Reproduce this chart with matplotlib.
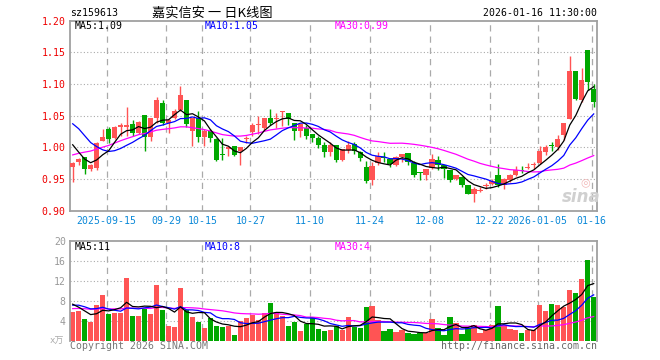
import matplotlib.pyplot as plt
import numpy as np
import pandas as pd

plt.rcParams['font.family'] = ['DejaVu Sans Mono', 'Noto Sans CJK SC']

# daily K-line data, 2025-09-05 .. 2026-01-16
opens = [0.9687, 0.9766, 0.985, 0.9651, 0.9682, 1.0099, 1.0292, 1.0146, 1.0323, 1.0323,
         1.0365, 1.0224, 1.0505, 1.0167, 1.0458, 1.0698, 1.038, 1.0458, 1.0589, 1.074,
         1.026, 1.0458, 1.0167, 1.026, 1.013, 0.9885, 0.9969, 1.0021, 0.9948, 1.0135,
         1.025, 1.0354, 1.0313, 1.0458, 1.0448, 1.0557, 1.0536, 1.038, 1.026, 1.0313,
         1.0208, 1.0146, 1.0036, 0.9932, 1.0036, 0.9807, 0.9964, 1.0052, 0.9932, 0.9693,
         0.9479, 0.9755, 0.9849, 0.9818, 0.9714, 0.9854, 0.9911, 0.9755, 0.9599, 0.9557,
         0.9677, 0.9807, 0.9714, 0.9646, 0.9495, 0.9531, 0.9401, 0.9271, 0.9318, 0.9396,
         0.9422, 0.9557, 0.9401, 0.9479, 0.9568, 0.9635, 0.9672, 0.9714, 0.9755, 0.9932,
         1.0031, 1.0, 1.0193, 1.0453, 1.1208, 1.074, 1.1536, 1.0922]
highs = [0.977, 0.983, 0.985, 0.9734, 1.0089, 1.0286, 1.0328, 1.033, 1.038, 1.064,
         1.0432, 1.041, 1.0505, 1.0458, 1.0792, 1.0755, 1.0443, 1.0599, 1.0964, 1.0755,
         1.0458, 1.0573, 1.0286, 1.0286, 1.014, 1.0146, 1.0016, 1.0021, 1.0, 1.018,
         1.038, 1.0495, 1.0458, 1.0599, 1.0536, 1.0568, 1.0536, 1.039, 1.0365, 1.0349,
         1.0208, 1.018, 1.0078, 1.0078, 1.0036, 0.9974, 1.0094, 1.0078, 0.9948, 0.9786,
         0.9766, 0.9922, 0.9922, 0.9833, 0.987, 0.9896, 0.9911, 0.9792, 0.9609, 0.9661,
         0.9896, 0.9859, 0.9724, 0.9646, 0.9568, 0.9542, 0.9401, 0.9375, 0.9375, 0.9443,
         0.9505, 0.974, 0.9516, 0.9583, 0.9703, 0.9703, 0.9755, 0.9776, 1.0026, 1.0036,
         1.0078, 1.0193, 1.0391, 1.1443, 1.1208, 1.126, 1.1536, 1.10]
lows = [0.946, 0.9714, 0.9583, 0.963, 0.9635, 1.0099, 1.0068, 1.013, 1.0182, 1.018,
        1.0172, 1.0208, 0.9948, 1.0104, 1.0391, 1.0349, 1.0224, 1.0443, 1.0573, 1.0323,
        1.0026, 1.0089, 1.0026, 1.0078, 0.9781, 0.9807, 0.9859, 0.9859, 0.9724, 1.0068,
        1.018, 1.0208, 1.026, 1.0349, 1.0313, 1.0339, 1.0349, 1.012, 1.0167, 1.013,
        1.0078, 0.9984, 0.9844, 0.987, 0.9776, 0.979, 0.9911, 0.9896, 0.9792, 0.9443,
        0.9401, 0.9724, 0.9776, 0.9688, 0.9703, 0.9776, 0.9724, 0.9531, 0.9479, 0.9479,
        0.966, 0.9635, 0.9516, 0.9453, 0.9479, 0.9375, 0.926, 0.9141, 0.929, 0.9349,
        0.9401, 0.9375, 0.9339, 0.9453, 0.9547, 0.96, 0.9651, 0.9651, 0.974, 0.988,
        0.9948, 0.9964, 1.012, 1.0443, 1.0755, 1.0724, 1.0901, 1.0635]
closes = [0.9755, 0.9818, 0.9651, 0.9714, 1.0068, 1.0161, 1.0135, 1.0323, 1.0349, 1.0349,
          1.0224, 1.0396, 1.0167, 1.0458, 1.074, 1.0385, 1.0427, 1.0573, 1.0823, 1.0375,
          1.0458, 1.0167, 1.026, 1.0141, 0.9807, 0.9875, 1.001, 0.9885, 1.0, 1.015,
          1.0349, 1.037, 1.0458, 1.039, 1.0464, 1.0568, 1.0443, 1.026, 1.0365, 1.0182,
          1.0146, 1.0036, 0.9932, 1.0036, 0.9807, 0.9974, 1.0036, 0.9943, 0.9828, 0.9464,
          0.9708, 0.9859, 0.9839, 0.974, 0.9844, 0.9896, 0.9776, 0.9568, 0.9589, 0.9661,
          0.9818, 0.9724, 0.9651, 0.9479, 0.9557, 0.9401, 0.9271, 0.9349, 0.9328, 0.9411,
          0.9464, 0.9401, 0.9505, 0.9557, 0.9635, 0.962, 0.9682, 0.9729, 0.9948, 1.001,
          1.0021, 1.013, 1.0391, 1.1208, 1.0766, 1.1068, 1.1026, 1.0714]
# volume in 万
volumes = [5.8, 6.0, 4.3, 3.8, 7.1, 9.2, 5.4, 5.6, 5.6, 12.6,
           5.0, 5.0, 6.4, 5.4, 11.2, 6.2, 3.0, 2.8, 10.6, 6.2,
           4.8, 3.8, 2.6, 4.5, 3.0, 2.8, 3.0, 1.2, 4.0, 4.6,
           5.1, 4.2, 5.6, 7.6, 5.8, 5.0, 3.0, 3.8, 2.0, 3.4,
           4.8, 2.4, 2.0, 2.2, 3.0, 2.2, 4.7, 2.8, 2.6, 6.7,
           6.9, 4.1, 1.9, 2.3, 1.7, 2.1, 1.5, 1.3, 1.5, 1.5,
           4.3, 2.5, 1.2, 4.7, 3.5, 1.3, 2.5, 3.1, 1.5, 2.1,
           3.1, 7.0, 3.2, 2.3, 2.1, 1.5, 2.1, 2.1, 7.2, 6.0,
           7.4, 7.2, 6.8, 10.2, 9.6, 12.4, 16.1, 8.8]

# closes / volumes before the visible window (for the moving averages)
prior_close = [0.905, 0.91, 0.92, 0.915, 0.925, 0.93, 0.92, 0.925, 0.935, 0.93,
               0.945, 0.96, 0.975, 0.99, 1.0, 1.01, 1.02, 1.03, 1.04, 1.085,
               1.06, 1.075, 1.08, 1.07, 1.067, 1.04, 1.02, 1.00, 0.985]
prior_vol = [5, 6, 7, 5.5, 6.5, 8, 5, 6, 7, 6,
             5.5, 6, 7, 5, 6, 6.5, 5.5, 6, 6, 6,
             6.0, 7.5, 8.0, 6.5, 6.5, 9.0, 8.0, 7.5, 6.2]

date_idx = [6, 16, 22, 30, 40, 50, 60, 70, 78, 87]
date_labels = ['2025-09-15', '09-29', '10-15', '10-27', '11-10',
               '11-24', '12-08', '12-22', '2026-01-05', '01-16']

RED = '#ff5454'
GREEN = '#00a800'
GRID = '#aaaaaa'
FRAME = '#a0a0a0'
FS = 7.1

o = np.array(opens)
h = np.array(highs)
l = np.array(lows)
c = np.array(closes)
v = np.array(volumes)
n = len(c)
x = np.arange(n) + 0.45
colors = np.where(c >= o, RED, GREEN)

allc = pd.Series(prior_close + closes)
allv = pd.Series(prior_vol + volumes)
k = len(prior_close)
ma = {p: allc.rolling(p).mean().values[k:] for p in (5, 10, 30)}
mav = {p: allv.rolling(p).mean().values[k:] for p in (5, 10, 30)}

W, H = 660, 360
fig = plt.figure(figsize=(W / 100, H / 100), dpi=100)
ax = fig.add_axes([70 / W, 1 - 210.7 / H, 527 / W, 190 / H])
axv = fig.add_axes([70 / W, 1 - 340.7 / H, 527 / W, 100 / H])

for a in (ax, axv):
    a.set_xlim(0, n)
    for s in a.spines.values():
        s.set_color(FRAME)
        s.set_linewidth(1.3)
    for i in date_idx:
        a.axvline(i + 0.1, color=GRID, lw=0.9, ls=(0, (5, 4)), zorder=0)
axv.spines['bottom'].set_visible(False)

# price panel
ax.set_ylim(0.90, 1.20)
for yv in [0.95, 1.00, 1.05, 1.10, 1.15]:
    ax.axhline(yv, color=GRID, lw=0.8, ls=(0, (1, 2)), zorder=0)
ax.set_yticks([0.90, 0.95, 1.00, 1.05, 1.10, 1.15, 1.20])
ax.set_yticklabels(['%.2f' % t for t in ax.get_yticks()])
ax.tick_params(axis='y', length=0, pad=3, labelsize=FS, labelcolor='#ee0000')
ax.set_xticks([i + 0.1 for i in date_idx])
ax.set_xticklabels(date_labels)
ax.tick_params(axis='x', length=0, pad=4, labelsize=FS, labelcolor='#0a88d8')

ax.vlines(x, l, h, colors=colors, lw=1, zorder=2)
body = np.maximum(np.abs(c - o), 0.0016)
ax.bar(x, body, width=0.88, bottom=np.minimum(o, c), color=colors, lw=0, zorder=3)
ax.plot(x, ma[30], color='#ff00ff', lw=0.9, zorder=4)
ax.plot(x, ma[10], color='#0000ff', lw=0.9, zorder=4)
ax.plot(x, ma[5], color='black', lw=0.9, zorder=4)

# sina watermark
fig.text(581 / W, 1 - 197 / H, 'sina', fontsize=12, fontstyle='italic',
         fontweight='bold', color='#d0d0d0', ha='center', va='center',
         family='DejaVu Sans', zorder=1)
fig.text(585 / W, 1 - 182 / H, '◎', fontsize=8, color='#f2b8b8',
         ha='center', va='center', family='DejaVu Sans', zorder=1)

# volume panel
axv.set_ylim(0, 20)
for yv in [4, 8, 12, 16]:
    axv.axhline(yv, color=GRID, lw=0.8, ls=(0, (1, 2)), zorder=0)
axv.set_yticks([4, 8, 12, 16, 20])
axv.tick_params(axis='y', length=0, pad=3, labelsize=FS, labelcolor='#999999')
axv.set_xticks([])
axv.bar(x, v, width=0.88, color=colors, lw=0, zorder=2)
axv.plot(x, mav[30], color='#ff00ff', lw=0.9, zorder=4)
axv.plot(x, mav[10], color='#0000ff', lw=0.9, zorder=4)
axv.plot(x, mav[5], color='black', lw=0.9, zorder=4)


def ftext(px, py, s, **kw):
    kw.setdefault('fontsize', FS)
    kw.setdefault('va', 'center')
    fig.text(px / W, 1 - py / H, s, **kw)


ftext(70, 13.5, 'sz159613')
ftext(212, 13.5, '嘉实信安 一 日K线图', ha='center', fontsize=9.5,
      family=['Noto Sans CJK SC', 'DejaVu Sans'])
ftext(597, 13.5, '2026-01-16 11:30:00', ha='right')

ftext(75, 26, 'MA5:1.09', color='black')
ftext(205, 26, 'MA10:1.05', color='#0000ff')
ftext(335, 26, 'MA30:0.99', color='#ff00ff')
ftext(75, 246.5, 'MA5:11', color='black')
ftext(205, 246.5, 'MA10:8', color='#0000ff')
ftext(335, 246.5, 'MA30:4', color='#ff00ff')

ftext(64, 341, 'x万', ha='right', color='#aaaaaa', fontsize=6.5,
      family=['DejaVu Sans Mono', 'Noto Sans CJK SC'])
ftext(70, 346, 'Copyright 2026 SINA.COM', color='#777777')
ftext(597, 346, 'http://finance.sina.com.cn', ha='right', color='#666666')

fig.savefig('out.png', dpi=100)
plt.close()
